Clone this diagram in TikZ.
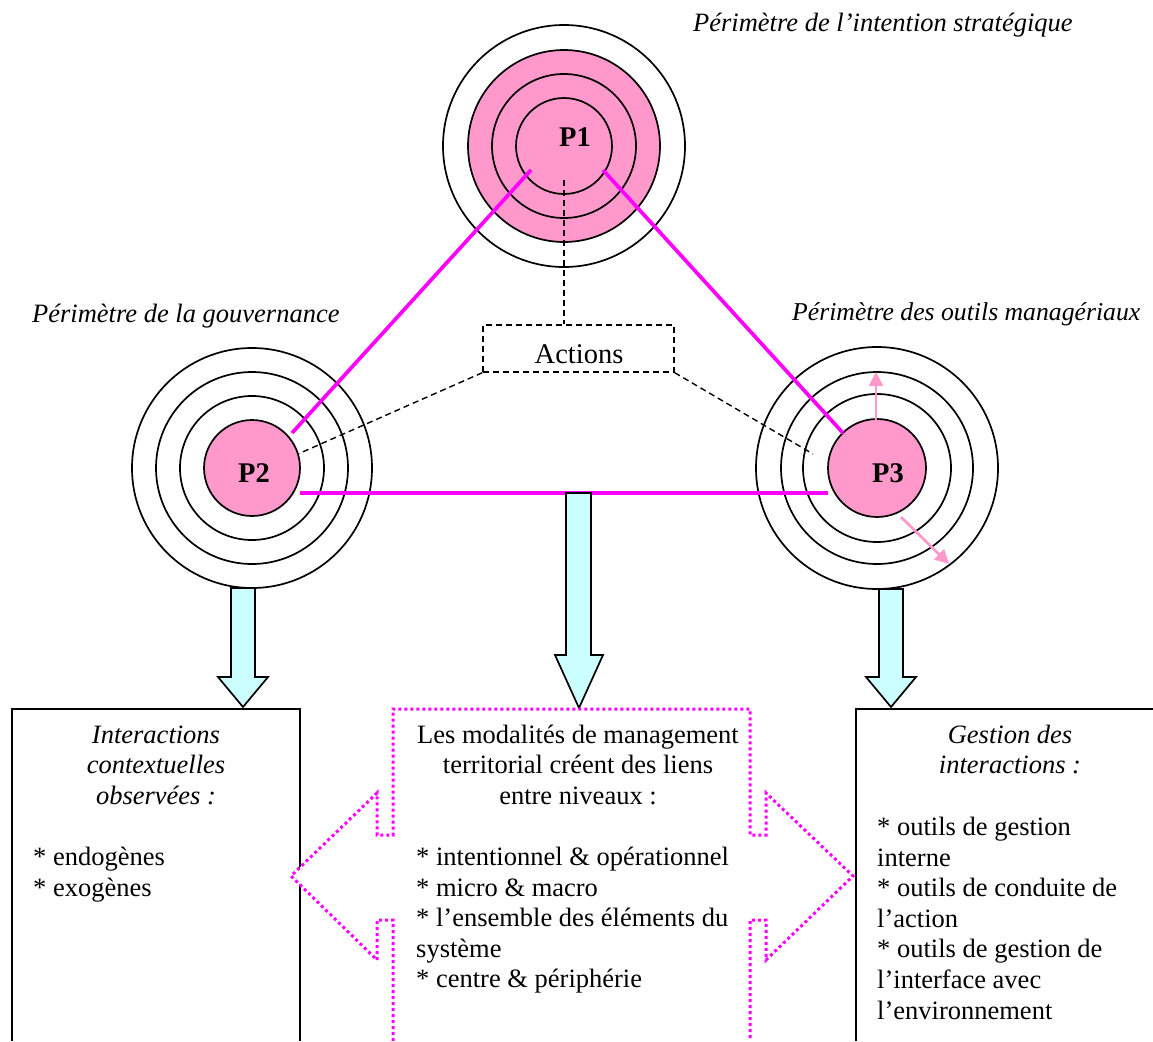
\documentclass[tikz,border=0pt]{standalone}
\usepackage{fontspec}
\setmainfont{Liberation Serif}
\usetikzlibrary{arrows.meta,calc}
\definecolor{pinkfill}{HTML}{FF99CC}
\definecolor{mag}{HTML}{FF00FF}
\definecolor{cyanfill}{HTML}{CCFFFF}
\begin{document}
\begin{tikzpicture}[x=1pt,y=-1pt,
  ring/.style={circle, draw, line width=1.7pt, inner sep=0pt, outer sep=0pt},
  body/.style={font=\fontsize{26.5}{30.6}\selectfont, inner sep=0pt},
  lbl/.style={font=\fontsize{26.5}{30.6}\selectfont\itshape, inner sep=0pt},
  plabel/.style={font=\fontsize{28.5}{32}\selectfont\bfseries, inner sep=0pt, anchor=base},
  pline/.style={draw=mag, line width=3.7pt},
  dline/.style={draw, line width=1.4pt, dash pattern=on 6pt off 4pt},
  blockarrow/.style={draw, fill=cyanfill, line width=1.7pt, line join=miter},
  pinkarrow/.style={draw=pinkfill, line width=2.7pt, -{Triangle[length=14pt,width=14pt]}},
  boxline/.style={draw, line width=2.2pt},
  dotline/.style={draw=mag, line width=3pt, dash pattern=on 3pt off 3pt, fill=white}
]
\useasboundingbox (0,0) rectangle (1153,1041);

% ---- P1 circles
\node[ring, fill=white, minimum size=242] (P1d) at (564,146) {};
\node[ring, fill=pinkfill, minimum size=192] (P1c) at (564,146) {};
\node[ring, fill=pinkfill, minimum size=144] (P1b) at (564,146) {};
\node[ring, fill=pinkfill, minimum size=96] (P1a) at (564,146) {};
\node[plabel] (P1t) at (575,146) {P1};

% ---- P2 circles
\node[ring, fill=white, minimum size=240] (P2d) at (252,468) {};
\node[ring, fill=white, minimum size=192] (P2c) at (252,468) {};
\node[ring, fill=white, minimum size=144] (P2b) at (252,468) {};
\node[ring, fill=pinkfill, minimum size=96] (P2a) at (252,468) {};
\node[plabel] (P2t) at (254,482) {P2};

% ---- P3 circles
\node[ring, fill=white, minimum size=242] (P3d) at (877,468) {};
\node[ring, fill=white, minimum size=192] (P3c) at (877,468) {};
\node[ring, fill=white, minimum size=148] (P3b) at (877,468) {};
\node[ring, fill=pinkfill, minimum size=98] (P3a) at (877,468) {};
\node[plabel] (P3t) at (888,482) {P3};

% ---- pink arrows in P3
\coordinate (pa1s) at (876,420);
\coordinate (pa1e) at (876,372);
\coordinate (pa2s) at (901,517);
\coordinate (pa2e) at (949,564);
\draw[pinkarrow] (pa1s) -- (pa1e);
\draw[pinkarrow] (pa2s) -- (pa2e);

% ---- magenta triangle
\coordinate (m1a) at (531,170);
\coordinate (m1b) at (292,433);
\coordinate (m2a) at (603,170);
\coordinate (m2b) at (843,433);
\coordinate (m3a) at (300,493);
\coordinate (m3b) at (828,493);
\draw[pline] (m1a) -- (m1b);
\draw[pline] (m2a) -- (m2b);
\draw[pline] (m3a) -- (m3b);

% ---- Actions box and dashed links
\node[dline, minimum width=191, minimum height=47, inner sep=0pt] (act) at (578.5,348.5) {};
\node[font=\fontsize{28.5}{32}\selectfont, inner sep=0pt, anchor=base] (acttxt) at (579,363) {Actions};
\coordinate (d1) at (564,180);
\coordinate (d2) at (298,454);
\coordinate (d3) at (813,454);
\draw[dline] (d1) -- (d1 |- act.north);
\draw[dline] (act.south west) -- (d2);
\draw[dline] (act.south east) -- (d3);

% ---- perimeter labels
\node[lbl, anchor=base west] (lab1) at (693,32) {Périmètre de l’intention stratégique};
\node[lbl, anchor=base west] (lab2) at (32,322) {Périmètre de la gouvernance};
\node[lbl, anchor=base west, font=\fontsize{25.7}{30}\selectfont\itshape] (lab3) at (792,320) {Périmètre des outils managériaux};

% ---- cyan block arrows
\draw[blockarrow] (231,588) -- (255,588) -- (255,677) -- (268,677) -- (243,707) -- (218,677) -- (231,677) -- cycle;
\draw[blockarrow] (566,493) -- (591,493) -- (591,655) -- (603,655) -- (579,708) -- (555,655) -- (566,655) -- cycle;
\draw[blockarrow] (879,589) -- (903,589) -- (903,677) -- (916,677) -- (891,707) -- (866,677) -- (879,677) -- cycle;

% ---- bottom boxes
\draw[boxline] (12,1041) -- (12,709) -- (300,709) -- (300,1041);
\draw[boxline] (856,1041) -- (856,709) -- (1153,709);

% ---- middle dotted double arrow
\draw[dotline] (393,1041) -- (393,920) -- (377,920) -- (377,960) -- (291,876) -- (377,793) -- (377,835) -- (393,835) -- (393,709)
  -- (750,709) -- (750,835) -- (766,835) -- (766,793) -- (853,876) -- (766,960) -- (766,920) -- (750,920) -- (750,1041);

% ---- left box text
\node[lbl, anchor=base] (l1) at (156,743) {Interactions};
\node[lbl, anchor=base] (l2) at (156,773.6) {contextuelles};
\node[lbl, anchor=base] (l3) at (156,804.2) {observées :};
\node[body, anchor=base west] (l4) at (33,865.4) {* endogènes};
\node[body, anchor=base west] (l5) at (33,896) {* exogènes};

% ---- middle text
\node[body, anchor=base] (c1) at (578,743) {Les modalités de management};
\node[body, anchor=base] (c2) at (578,773.6) {territorial créent des liens};
\node[body, anchor=base] (c3) at (578,804.2) {entre niveaux :};
\node[body, anchor=base west] (c4) at (416,865.4) {* intentionnel \& opérationnel};
\node[body, anchor=base west] (c5) at (416,896) {* micro \& macro};
\node[body, anchor=base west] (c6) at (416,926.6) {* l’ensemble des éléments du};
\node[body, anchor=base west] (c7) at (416,957.2) {système};
\node[body, anchor=base west] (c8) at (416,987.8) {* centre \& périphérie};

% ---- right box text
\node[lbl, anchor=base] (r1) at (1010,743) {Gestion des};
\node[lbl, anchor=base] (r2) at (1010,773.6) {interactions :};
\node[body, anchor=base west] (r3) at (877,835.4) {* outils de gestion};
\node[body, anchor=base west] (r4) at (877,866) {interne};
\node[body, anchor=base west] (r5) at (877,896.6) {* outils de conduite de};
\node[body, anchor=base west] (r6) at (877,927.2) {l’action};
\node[body, anchor=base west] (r7) at (877,957.8) {* outils de gestion de};
\node[body, anchor=base west] (r8) at (877,988.4) {l’interface avec};
\node[body, anchor=base west] (r9) at (877,1019) {l’environnement};
\end{tikzpicture}
\end{document}
